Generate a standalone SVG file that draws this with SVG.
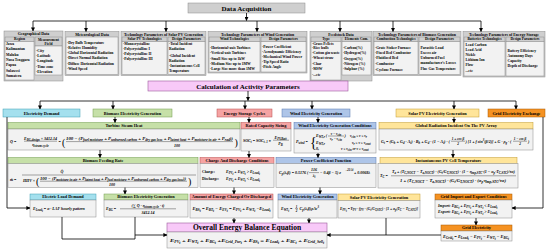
<svg xmlns="http://www.w3.org/2000/svg" width="550" height="250" viewBox="0 0 550 250">
<defs>
<marker id="ah" markerUnits="userSpaceOnUse" markerWidth="4" markerHeight="4" refX="3.6" refY="2" orient="auto"><path d="M0,0 L4,2 L0,4 z" fill="#000"/></marker>
<style>
.gh{fill:#cfcfcf;stroke:#8a8a8a;stroke-width:0.5}
.bd{fill:#f2f2f2;stroke:#8a8a8a;stroke-width:0.5}
.pk{fill:#f8c9f8;stroke:#9b5a9b;stroke-width:0.6}
.cy{fill:#a4e0ee;stroke:#3f9fb5;stroke-width:0.5}
.gr{fill:#c6e0a8;stroke:#6f9b4c;stroke-width:0.5}
.sa{fill:#f5a3a3;stroke:#b94d4d;stroke-width:0.5}
.bl{fill:#aec5e8;stroke:#5577b0;stroke-width:0.5}
.ye{fill:#ffe59a;stroke:#c19a2e;stroke-width:0.5}
.or{fill:#f59222;stroke:#a85a00;stroke-width:0.5}
text{font-family:"Liberation Serif","Times New Roman",serif;font-weight:bold;fill:#000}
.h{font-size:4.3px;text-anchor:middle}
.h2{font-size:3.9px;text-anchor:middle}
.h3{font-size:3.6px;text-anchor:middle}
.i{font-size:3.7px}
.f{font-size:4px;font-style:italic}
.m{text-anchor:middle}
.s{font-size:3px;baseline-shift:-1px}
.t{font-size:3px;baseline-shift:-1.6px}
.u{font-size:3px;baseline-shift:1.6px}
.bp{font-size:10px;font-style:normal;font-weight:normal}
.c{stroke:#000;stroke-width:0.8;fill:none}
.a{marker-end:url(#ah)}
.fl{stroke:#000;stroke-width:0.35}
</style>
</defs>
<rect width="550" height="250" fill="#fff"/>

<g id="data-acquisition">
<rect class="gh" x="188" y="3" width="117" height="10"/>
<text x="246.5" y="10.6" style="font-size:7px;text-anchor:middle">Data Acquisition</text>
</g>

<g id="geographical-data">
<rect class="gh" x="4" y="31" width="59" height="50"/>
<text class="h2" x="33.5" y="35.2">Geographical Data</text>
<rect class="gh" x="5" y="37" width="29" height="4.5"/>
<text class="h3" x="19.5" y="40.3">Region</text>
<rect class="bd" x="5" y="41.5" width="29" height="38.5"/>
<text class="i" x="6" y="45">Jawa</text>
<text class="i" x="6" y="50.3">Kalimantan</text>
<text class="i" x="6" y="55.6">Maluku</text>
<text class="i" x="6" y="60.9">Nusa Tenggara</text>
<text class="i" x="6" y="66.2">Papua</text>
<text class="i" x="6" y="71.5">Sulawesi</text>
<text class="i" x="6" y="76.8">Sumatera</text>
<rect class="gh" x="35" y="37" width="27" height="9"/>
<text class="h3" x="48.5" y="40.5">Measurement</text>
<text class="h3" x="48.5" y="44.6">Field</text>
<rect class="bd" x="35" y="46" width="27" height="29"/>
<text class="i" x="36" y="51.8">-City</text>
<text class="i" x="36" y="57">-Latitude</text>
<text class="i" x="36" y="62.3">-Longitude</text>
<text class="i" x="36" y="67.5">-Time zone</text>
<text class="i" x="36" y="72.7">-Elevation</text>
</g>

<g id="meteorological-data">
<rect class="gh" x="65" y="31.5" width="54" height="44"/>
<text class="h2" x="92" y="35.6">Meteorological Data</text>
<rect class="bd" x="66" y="37" width="52" height="37.5"/>
<text class="i" x="67" y="43.5">-Dry Bulb Temperature</text>
<text class="i" x="67" y="48.8">-Relative Humidity</text>
<text class="i" x="67" y="54.1">-Global Horizontal Radiation</text>
<text class="i" x="67" y="59.4">-Direct Normal Radiation</text>
<text class="i" x="67" y="64.7">-Diffuse Horizontal Radiation</text>
<text class="i" x="67" y="70">-Wind Speed</text>
</g>

<g id="solar-pv-technology">
<rect class="gh" x="121" y="31.5" width="85" height="44"/>
<text class="h2" x="163.5" y="35.6">Technology Parameters of Solar PV Generation</text>
<rect class="gh" x="122" y="37" width="45" height="4.5"/>
<text class="h3" x="144.5" y="40.3">Solar PV Technologies</text>
<rect class="bd" x="122" y="41.5" width="45" height="33"/>
<text class="i" x="123" y="44.8">-Monocrystalline</text>
<text class="i" x="123" y="49.8">-Polycrystalline I</text>
<text class="i" x="123" y="54.8">-Polycrystalline II</text>
<text class="i" x="123" y="59.8">-Polycrystalline III</text>
<rect class="gh" x="168" y="37" width="37" height="4.5"/>
<text class="h3" x="186.5" y="40.3">Design Parameters</text>
<rect class="bd" x="168" y="41.5" width="37" height="33"/>
<text class="i" x="169" y="44.8">-Total Incident</text>
<text class="i" x="169" y="49.6">Radiation</text>
<text class="i" x="169" y="56.8">-Global Incident</text>
<text class="i" x="169" y="61.6">Radiation</text>
<text class="i" x="169" y="67.4">-Instantaneous Cell</text>
<text class="i" x="169" y="72.2">Temperature</text>
</g>

<g id="wind-technology">
<rect class="gh" x="208" y="31.5" width="99" height="41.5"/>
<text class="h2" x="257.5" y="35.6">Technology Parameters of Wind Generation</text>
<rect class="gh" x="209" y="37" width="51" height="4.5"/>
<text class="h3" x="234.5" y="40.3">Wind Technologies</text>
<rect class="bd" x="209" y="41.5" width="51" height="30.5"/>
<text class="i" x="210" y="49.3">-Horizontal-axis Turbines</text>
<text class="i" x="210" y="54.4">-Vertical-axis Turbines</text>
<text class="i" x="210" y="59.5">-Small Size up to 1kW</text>
<text class="i" x="210" y="64.6">-Medium Size up to 1MW</text>
<text class="i" x="210" y="69.7">-Large Size more than 1MW</text>
<rect class="gh" x="261" y="37" width="45" height="4.5"/>
<text class="h3" x="283.5" y="40.3">Design Parameters</text>
<rect class="bd" x="261" y="41.5" width="45" height="30.5"/>
<text class="i" x="262" y="47.6">-Power Coefficient</text>
<text class="i" x="262" y="52.6">-Aerodynamic Efficiency</text>
<text class="i" x="262" y="57.6">-Mechanical Wind Power</text>
<text class="i" x="262" y="62.6">-Tip Speed Ratio</text>
<text class="i" x="262" y="67.6">-Pitch Angle</text>
</g>

<g id="feedstock-data">
<rect class="gh" x="310" y="31.5" width="62" height="49.5"/>
<text class="h2" x="341" y="35.6">Feedstock Data</text>
<rect class="gh" x="311" y="37" width="30" height="4.5"/>
<text class="h3" x="326" y="40.3">Type</text>
<rect class="bd" x="311" y="41.5" width="30" height="38.5"/>
<text class="i" x="312" y="44.6">-Grass Pellets</text>
<text class="i" x="312" y="49.3">-Rice hulls</text>
<text class="i" x="312" y="54">-Cotton gin waste</text>
<text class="i" x="312" y="58.8">-Wheat straw</text>
<text class="i" x="312" y="65">-Char</text>
<text class="i" x="312" y="70.3">-MSW</text>
<text class="i" x="312" y="76">-...etc</text>
<rect class="gh" x="342" y="37" width="29" height="4.5"/>
<text class="h3" x="356.5" y="40.3">Elements Com.</text>
<rect class="bd" x="342" y="41.5" width="29" height="33.5"/>
<text class="i" x="343" y="49">-Carbon(%)</text>
<text class="i" x="343" y="54.3">-Hydrogen(%)</text>
<text class="i" x="343" y="59.6">-Oxygen(%)</text>
<text class="i" x="343" y="64.9">-Nitrogen (%)</text>
<text class="i" x="343" y="70.2">-Sulphur (%)</text>
</g>

<g id="biomass-technology">
<rect class="gh" x="373" y="31.5" width="88" height="44"/>
<text class="h2" x="417" y="35.6">Technology Parameters of Biomass Generation</text>
<rect class="gh" x="374" y="37" width="44" height="4.5"/>
<text class="h3" x="396" y="40.3">Combustion Technologies</text>
<rect class="bd" x="374" y="41.5" width="44" height="33"/>
<text class="i" x="375" y="49">-Grate Stoker Furnace</text>
<text class="i" x="375" y="54.2">-Fixed Bed Combustor</text>
<text class="i" x="375" y="59.3">-Fluidized Bed</text>
<text class="i" x="375" y="64.5">-Combustor</text>
<text class="i" x="375" y="70.5">-Cyclone Furnace</text>
<rect class="gh" x="419" y="37" width="41" height="4.5"/>
<text class="h3" x="439.5" y="40.3">Design Parameters</text>
<rect class="bd" x="419" y="41.5" width="41" height="33"/>
<text class="i" x="420.5" y="49.3">Parasitic Load</text>
<text class="i" x="420.5" y="54.3">Excess air</text>
<text class="i" x="420.5" y="59.3">Unburned Fuel</text>
<text class="i" x="420.5" y="64.3">manufacturer's Losses</text>
<text class="i" x="420.5" y="70.3">Flue Gas Temperature</text>
</g>

<g id="energy-storage-technology">
<rect class="gh" x="463" y="31.5" width="82" height="45.5"/>
<text class="h2" x="504" y="35.6">Technology Parameters of Energy Storage</text>
<rect class="gh" x="464" y="37" width="41" height="4.5"/>
<text class="h3" x="484.5" y="40.3">Batteries Technologies</text>
<rect class="bd" x="464" y="41.5" width="41" height="34.5"/>
<text class="i" x="465.5" y="46">Lead Carbon</text>
<text class="i" x="465.5" y="51">Lead Acid</text>
<text class="i" x="465.5" y="56.2">Nickle</text>
<text class="i" x="465.5" y="61.3">Lithium Ion</text>
<text class="i" x="465.5" y="66.4">Flow</text>
<text class="i" x="465.5" y="71.6">...etc</text>
<rect class="gh" x="506" y="37" width="38" height="4.5"/>
<text class="h3" x="525" y="40.3">Design Parameters</text>
<rect class="bd" x="506" y="41.5" width="38" height="34.5"/>
<text class="i" x="507.5" y="52">Battery Efficiency</text>
<text class="i" x="507.5" y="57">Autonomy Days</text>
<text class="i" x="507.5" y="62">Capacity</text>
<text class="i" x="507.5" y="67">Depth of Discharge</text>
</g>

<g id="calculation">
<rect class="pk" x="148" y="81" width="200" height="10"/>
<text x="248" y="88.6" style="font-size:7px;text-anchor:middle">Calculation of Activity Parameters</text>
</g>

<g id="electricity-demand">
<rect class="cy" x="3" y="109" width="77" height="8"/>
<text class="h" x="41.5" y="114.6">Electricity Demand</text>
</g>
<g id="biomass-electricity-generation">
<rect class="gr" x="93" y="109" width="79" height="8"/>
<text class="h" x="132.5" y="114.6">Biomass Electricity Generation</text>
</g>
<g id="energy-storage-cycles">
<rect class="sa" x="217" y="109" width="55" height="8"/>
<text class="h" x="244.5" y="114.6">Energy Storage Cycles</text>
</g>
<g id="wind-electricity-generation">
<rect class="bl" x="282" y="109" width="68" height="8"/>
<text class="h" x="316" y="114.6">Wind Electricity Generation</text>
</g>
<g id="solar-pv-electricity-generation">
<rect class="ye" x="396" y="109" width="83" height="8"/>
<text class="h" x="437.5" y="114.6">Solar PV Electricity Generation</text>
</g>
<g id="grid-electricity-exchange">
<rect class="or" x="488" y="109" width="57" height="8"/>
<text class="h" x="516.5" y="114.6">Grid Electricity Exchange</text>
</g>

<g id="turbine-steam-heat">
<rect class="gr" x="8" y="122.5" width="232" height="6.5"/>
<text class="h" x="124" y="127.4">Turbine Steam Heat</text>
<rect class="bd" x="8" y="129" width="232" height="21"/>
<text class="f" x="10" y="143.2">Q̇ =</text>
<text class="f m" x="40.5" y="139.6">E<tspan class="s">BG,design</tspan> × 3412.14</text>
<line class="fl" x1="24" y1="141.2" x2="57" y2="141.2"/>
<text class="f m" x="40.5" y="146.2">η<tspan class="s">steam cycle</tspan></text>
<text class="f" x="58.5" y="143.2">=</text>
<text class="bp" x="62" y="145.5">(</text>
<text class="f" x="66" y="139.6" textLength="167" lengthAdjust="spacingAndGlyphs">100 − (P<tspan class="s">fuel moisture</tspan> + P<tspan class="s">unburned carbon</tspan> + P<tspan class="s">dry gas loss</tspan> + P<tspan class="s">latent heat</tspan> + P<tspan class="s">moisture in air</tspan> + P<tspan class="s">rad</tspan>))</text>
<line class="fl" x1="66" y1="141.6" x2="233" y2="141.6"/>
<text class="f m" x="177" y="146.8">100</text>
<text class="bp" x="234.5" y="145.5">)</text>
</g>

<g id="biomass-feeding-rate">
<rect class="gr" x="8" y="157.5" width="190" height="6"/>
<text class="h" x="103" y="161.9">Biomass Feeding Rate</text>
<rect class="bd" x="8" y="163.5" width="190" height="24"/>
<text class="f" x="10" y="180.5">ṁ =</text>
<text class="f m" x="62" y="172.8">Q̇</text>
<line class="fl" x1="22" y1="175" x2="196" y2="175"/>
<text class="f" x="23" y="182">HHV ×</text>
<text class="bp" x="36" y="184.5">(</text>
<text class="f" x="40" y="179.6" textLength="146" lengthAdjust="spacingAndGlyphs">100 − (P<tspan class="s">moisture in air</tspan> + P<tspan class="s">latent heat</tspan> + P<tspan class="s">fuel moisture</tspan> + P<tspan class="s">unburned carbon</tspan> + P<tspan class="s">dry gas loss</tspan>))</text>
<line class="fl" x1="40" y1="181.2" x2="187" y2="181.2"/>
<text class="f m" x="112" y="186">100</text>
<text class="bp" x="188" y="184.5">)</text>
</g>

<g id="electric-load-demand">
<rect class="cy" x="30" y="194" width="66" height="6"/>
<text class="h" x="63" y="198.4">Electric Load Demand</text>
<rect class="bd" x="30" y="200" width="66" height="17"/>
<text class="f" x="33" y="209.8">E<tspan class="s">Load</tspan><tspan class="t">t</tspan> = α · LAF hourly pattern</text>
</g>

<g id="biomass-electricity-output">
<rect class="gr" x="104" y="194" width="84" height="6"/>
<text class="h" x="146" y="198.4">Biomass Electricity Generation</text>
<rect class="bd" x="104" y="200" width="84" height="17"/>
<text class="f" x="106" y="210">E<tspan class="s">BG</tspan> =</text>
<text class="f m" x="148" y="207.2">(∑ Q̇ · η<tspan class="s">steam cycle</tspan> · t)</text>
<line class="fl" x1="120" y1="208.8" x2="176" y2="208.8"/>
<text class="f m" x="148" y="213.6">3412.14</text>
</g>

<g id="rated-capacity-sizing">
<rect class="sa" x="241" y="122.5" width="50" height="6.5"/>
<text class="h" x="266" y="127.4">Rated Capacity Sizing</text>
<rect class="bd" x="241" y="129" width="50" height="22"/>
<text class="f" x="243" y="141.5">SOC<tspan class="s">t</tspan> = SOC<tspan class="s">t−1</tspan> ±</text>
<text class="f m" x="280.5" y="138.8">E<tspan class="s">PV,Batt</tspan></text>
<line class="fl" x1="273" y1="140.2" x2="289" y2="140.2"/>
<text class="f m" x="280.5" y="145.2">P<tspan class="s">B</tspan></text>
</g>

<g id="charge-discharge-conditions">
<rect class="sa" x="200" y="157.5" width="74" height="6"/>
<text class="h" x="237" y="161.9">Charge And Discharge Conditions</text>
<rect class="bd" x="200" y="163.5" width="74" height="24"/>
<text class="i" x="202" y="172.5">Charge:</text>
<text class="f" x="226" y="172.5">E<tspan class="s">PV</tspan><tspan class="t">t</tspan> + E<tspan class="s">WT</tspan><tspan class="t">t</tspan> &gt; E<tspan class="s">Load</tspan><tspan class="t">t</tspan></text>
<text class="i" x="202" y="179.5">Discharge:</text>
<text class="f" x="226" y="179.5">E<tspan class="s">PV</tspan><tspan class="t">t</tspan> + E<tspan class="s">WT</tspan><tspan class="t">t</tspan> &lt; E<tspan class="s">Load</tspan><tspan class="t">t</tspan></text>
</g>

<g id="amount-charged-discharged">
<rect class="sa" x="190" y="194" width="83" height="6"/>
<text class="h" x="231.5" y="198.4">Amount of Energy Charged Or Discharged</text>
<rect class="bd" x="190" y="200" width="83" height="18"/>
<text class="f" x="192.5" y="210" textLength="78" lengthAdjust="spacingAndGlyphs">E<tspan class="s">BS</tspan><tspan class="t">t</tspan> = E<tspan class="s">BT</tspan><tspan class="t">t</tspan> − E<tspan class="s">EV</tspan><tspan class="t">t</tspan> = E<tspan class="s">PV</tspan><tspan class="t">t</tspan> + E<tspan class="s">WT</tspan><tspan class="t">t</tspan> −E<tspan class="s">Load</tspan><tspan class="t">t</tspan></text>
</g>

<g id="wind-generation-conditions">
<rect class="bl" x="294" y="122.5" width="82" height="6.5"/>
<text class="h" x="335" y="127.4">Wind Electricity Generation Conditions</text>
<rect class="bd" x="294" y="129" width="82" height="24"/>
<text class="f" x="296" y="143">P<tspan class="s">wind</tspan> =</text>
<text class="bp" x="310" y="146.5" style="font-size:14px">{</text>
<text class="f" x="316" y="137.3">E<tspan class="s">WT,r</tspan> (</text>
<text class="f m" x="336" y="134.8" style="font-size:3.4px">v − v<tspan class="s">cin</tspan></text>
<line class="fl" x1="328" y1="136" x2="344" y2="136"/>
<text class="f m" x="336" y="139.6" style="font-size:3.4px">v<tspan class="s">r</tspan> − v<tspan class="s">cin</tspan></text>
<text class="f" x="344.5" y="137.3">)</text>
<text class="f" x="350" y="137.3" style="font-size:3.5px">v<tspan class="s">cin</tspan> ≤ v ≤ v<tspan class="s">r</tspan></text>
<text class="f" x="316" y="144.2">E<tspan class="s">WT,r</tspan></text>
<text class="f" x="352" y="144.2" style="font-size:3.5px">v<tspan class="s">r</tspan> ≤ v ≤ v<tspan class="s">cout</tspan></text>
<text class="f" x="316" y="150.4">0,</text>
<text class="f" x="341" y="150.4" style="font-size:3.5px">v ≤ v<tspan class="s">cin</tspan> or v ≥ v<tspan class="s">cout</tspan></text>
</g>

<g id="power-coefficient-function">
<rect class="bl" x="276" y="157.5" width="100" height="6"/>
<text class="h" x="326" y="161.9">Power Coefficient Function</text>
<rect class="bd" x="276" y="163.5" width="100" height="24"/>
<text class="f" x="279" y="174">C<tspan class="s">p</tspan>(λ,β) = 0.5176 (</text>
<text class="f m" x="314" y="171.2">116</text>
<line class="fl" x1="309" y1="172.6" x2="319" y2="172.6"/>
<text class="f m" x="314" y="177.3">λ<tspan class="s">i</tspan></text>
<text class="f" x="320" y="174">− 0.4β − 5) e</text>
<text class="f" x="345.5" y="171" style="font-size:3px">−21/λi</text>
<text class="f" x="354" y="174">+ 0.0068λ</text>
</g>

<g id="wind-electricity-output">
<rect class="bl" x="278" y="194" width="59" height="6"/>
<text class="h" x="307.5" y="198.4">Wind Electricity Generation</text>
<rect class="bd" x="278" y="200" width="59" height="18"/>
<text class="f" x="281" y="210">E<tspan class="s">WT</tspan><tspan class="t">t</tspan> =</text>
<text class="f m" x="296.5" y="207.8" style="font-size:3.2px">1</text>
<line class="fl" x1="295" y1="208.6" x2="298" y2="208.6"/>
<text class="f m" x="296.5" y="211.8" style="font-size:3.2px">2</text>
<text class="f" x="299.5" y="210">C<tspan class="s">p</tspan>(λ,β)ρAv<tspan class="u">3</tspan></text>
</g>

<g id="global-radiation">
<rect class="ye" x="379" y="122.5" width="154" height="6.5"/>
<text class="h" x="456" y="127.4">Global Radiation Incident On The PV Array</text>
<rect class="bd" x="379" y="129" width="154" height="21"/>
<text class="f" x="381" y="142.5" textLength="69" lengthAdjust="spacingAndGlyphs">G<tspan class="s">t</tspan> = (G<tspan class="s">b</tspan> + G<tspan class="s">d</tspan> · A<tspan class="s">i</tspan>) · R<tspan class="s">b</tspan> + G<tspan class="s">d</tspan> · (1 − A<tspan class="s">i</tspan>) · (</text>
<text class="f m" x="458" y="140" style="font-size:3.4px">1 + cos β</text>
<line class="fl" x1="451" y1="141.2" x2="465" y2="141.2"/>
<text class="f m" x="458" y="145.2" style="font-size:3.4px">2</text>
<text class="f" x="465.5" y="142.5">) [1 + f sin<tspan class="u">3</tspan>(β/2)] + G · ρ<tspan class="s">g</tspan> · (</text>
<text class="f m" x="520" y="140" style="font-size:3.4px">1 − cos β</text>
<line class="fl" x1="513" y1="141.2" x2="527" y2="141.2"/>
<text class="f m" x="520" y="145.2" style="font-size:3.4px">2</text>
<text class="f" x="528" y="142.5">)</text>
</g>

<g id="pv-cell-temperature">
<rect class="ye" x="380" y="157.5" width="137" height="6"/>
<text class="h" x="448.5" y="161.9">Instantaneous PV Cell Temperature</text>
<rect class="bd" x="378" y="163.5" width="140" height="24.5"/>
<text class="f" x="380" y="177">T<tspan class="s">C</tspan> =</text>
<text class="f" x="392" y="172.5" textLength="123" lengthAdjust="spacingAndGlyphs">T<tspan class="s">a</tspan> + (T<tspan class="s">C,NOCT</tspan> − T<tspan class="s">a,NOCT</tspan>) · (G<tspan class="s">t</tspan>/G<tspan class="s">T,NOCT</tspan>) · (1 − η<tspan class="s">mp,STC</tspan>·(1 − α<tspan class="s">p</tspan>·T<tspan class="s">C,STC</tspan>)/τα)</text>
<line class="fl" x1="391" y1="175.8" x2="516" y2="175.8"/>
<text class="f" x="400" y="181.8" textLength="106" lengthAdjust="spacingAndGlyphs">1 + (T<tspan class="s">C,NOCT</tspan> − T<tspan class="s">a,NOCT</tspan>) · (G<tspan class="s">t</tspan>/G<tspan class="s">T,NOCT</tspan>) · (α<tspan class="s">p</tspan>·η<tspan class="s">mp,STC</tspan>/τα)</text>
</g>

<g id="solar-pv-electricity-output">
<rect class="ye" x="338" y="194" width="82" height="6.5"/>
<text class="h" x="379" y="198.6">Solar PV Electricity Generation</text>
<rect class="bd" x="338" y="200.5" width="82" height="17.5"/>
<text class="f" x="340" y="210" textLength="78" lengthAdjust="spacingAndGlyphs">E<tspan class="s">PV</tspan><tspan class="t">t</tspan> = Y<tspan class="s">PV</tspan> · f<tspan class="s">PV</tspan> · (G<tspan class="s">t</tspan>/G<tspan class="s">T,STC</tspan>) · [1 + α<tspan class="s">p</tspan>(T<tspan class="s">C</tspan> − T<tspan class="s">C,STC</tspan>)]</text>
</g>

<g id="grid-import-export-conditions">
<rect class="or" x="435" y="194" width="77" height="6"/>
<text class="h" x="473.5" y="198.4">Grid Import and Export Conditions</text>
<rect class="bd" x="435" y="200" width="77" height="18"/>
<text class="f" x="438" y="206.8">Import: E<tspan class="s">BG</tspan><tspan class="t">t</tspan> + E<tspan class="s">PV</tspan><tspan class="t">t</tspan> + E<tspan class="s">WT</tspan><tspan class="t">t</tspan> &lt; E<tspan class="s">Load</tspan><tspan class="t">t</tspan></text>
<text class="f" x="438" y="212.8">Export: E<tspan class="s">BG</tspan><tspan class="t">t</tspan> + E<tspan class="s">PV</tspan><tspan class="t">t</tspan> + E<tspan class="s">WT</tspan><tspan class="t">t</tspan> &gt; E<tspan class="s">Load</tspan><tspan class="t">t</tspan></text>
</g>

<g id="grid-electricity">
<rect class="or" x="441" y="225" width="71" height="6"/>
<text class="h" x="476.5" y="229.4">Grid Electricity</text>
<rect class="bd" x="441" y="231" width="71" height="10"/>
<text class="f" x="443" y="237.6" textLength="66" lengthAdjust="spacingAndGlyphs">E<tspan class="s">Grid</tspan><tspan class="t">t</tspan> = E<tspan class="s">Load</tspan><tspan class="t">t</tspan> − E<tspan class="s">PV</tspan><tspan class="t">t</tspan> − E<tspan class="s">WT</tspan><tspan class="t">t</tspan> − E<tspan class="s">BG</tspan><tspan class="t">t</tspan></text>
</g>

<g id="overall-energy-balance">
<rect class="pk" x="167" y="223" width="160" height="9"/>
<text x="247" y="230.4" style="font-size:7.5px;text-anchor:middle">Overall Energy Balance Equation</text>
<rect class="bd" x="167" y="232" width="160" height="16"/>
<text class="f" x="170" y="242" style="font-size:5px" textLength="154" lengthAdjust="spacingAndGlyphs">E<tspan class="s">PV</tspan><tspan class="t">t</tspan> + E<tspan class="s">WT</tspan><tspan class="t">t</tspan> + E<tspan class="s">BG</tspan><tspan class="t">t</tspan> +E<tspan class="s">Grid_Pur</tspan><tspan class="t">t</tspan> + E<tspan class="s">BS</tspan><tspan class="t">t</tspan> = E<tspan class="s">Load</tspan><tspan class="t">t</tspan> + E<tspan class="s">BC</tspan><tspan class="t">t</tspan> + E<tspan class="s">Grid_Sell</tspan><tspan class="t">t</tspan></text>
</g>

<g id="connectors">
<path class="c a" d="M246.5,13 V20.5"/>
<path class="c" d="M33,21 H481"/>
<path class="c a" d="M33,21 V31"/>
<path class="c a" d="M86,21 V31.5"/>
<path class="c a" d="M166,21 V31.5"/>
<path class="c a" d="M257,21 V31.5"/>
<path class="c a" d="M340,21 V31.5"/>
<path class="c a" d="M393,21 V31.5"/>
<path class="c a" d="M481,21 V31.5"/>
<path class="c a" d="M248,91 V100.5"/>
<path class="c" d="M40,101 H516"/>
<path class="c a" d="M40,101 V109"/>
<path class="c a" d="M113,101 V109"/>
<path class="c a" d="M245,101 V109"/>
<path class="c a" d="M312,101 V109"/>
<path class="c a" d="M454,101 V109"/>
<path class="c a" d="M516,101 V109"/>
<path class="c a" d="M7,117 V208 H30"/>
<path class="c a" d="M115,117 V122.5"/>
<path class="c a" d="M100,150 V157.5"/>
<path class="c a" d="M125,187.5 V194"/>
<path class="c a" d="M249,117 V122.5"/>
<path class="c a" d="M249,151 V157.5"/>
<path class="c a" d="M234,187.5 V194"/>
<path class="c a" d="M234,218 V223"/>
<path class="c a" d="M318,117 V122.5"/>
<path class="c a" d="M318,153 V157.5"/>
<path class="c a" d="M320,187.5 V194"/>
<path class="c a" d="M309,218 V223"/>
<path class="c a" d="M454,117 V122.5"/>
<path class="c a" d="M453,150 V157.5"/>
<path class="c a" d="M543,117 V208 H512"/>
<path class="c a" d="M476,218 V225"/>
<path class="c" d="M62,217 V239 H135 M135,217 V239"/>
<path class="c a" d="M135,235 H167"/>
<path class="c" d="M386,218 V235"/>
<path class="c a" d="M441,235 H327"/>
</g>
</svg>
